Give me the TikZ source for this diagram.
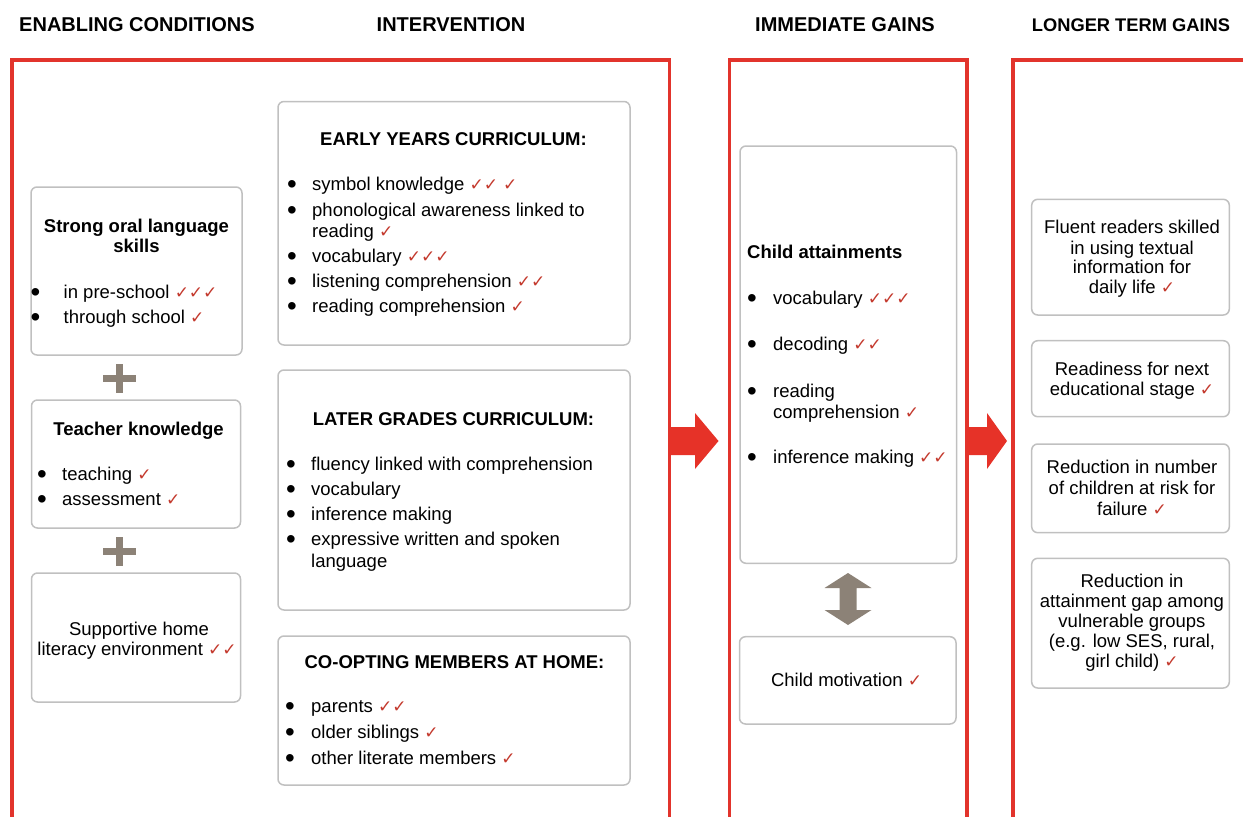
\documentclass[tikz,border=0pt]{standalone}
\usepackage{fontspec}
\setmainfont{Liberation Sans}
\newfontfamily\checkfont{DejaVu Sans}
\definecolor{framered}{RGB}{226,52,44}
\definecolor{arrowred}{RGB}{230,50,40}
\definecolor{tickred}{RGB}{196,58,46}
\definecolor{boxgray}{RGB}{192,192,192}
\definecolor{taupe}{RGB}{140,130,119}
\newcommand{\tk}{{\color{tickred}\checkfont\fontsize{17}{17}\selectfont ✓}}
\newcommand{\bl}[1][25pt]{\makebox[#1][l]{\raisebox{-3pt}[0pt][0pt]{\scalebox{1.5}{\textbullet}}}}

\begin{document}
\begin{tikzpicture}[x=1pt, y=-1pt,
    hdr/.style={font=\fontsize{20}{24}\selectfont\bfseries, anchor=base, inner sep=0},
    txt/.style={font=\fontsize{18.5}{22}\selectfont, anchor=base west, inner sep=0},
    ctxt/.style={txt, anchor=base},
    btxt/.style={ctxt, font=\fontsize{18.5}{22}\selectfont\bfseries},
    bltxt/.style={txt, font=\fontsize{18.5}{22}\selectfont\bfseries},
    gbox/.style={draw=boxgray, line width=1.5pt, rounded corners=6pt, fill=white, inner sep=0},
    frame/.style={draw=framered, line width=3.5pt}]
  \useasboundingbox (0,0) rectangle (1243,817);

  % Column headers
  \node[hdr] (hcond) at (137,31.5) {ENABLING CONDITIONS};
  \node[hdr] (hint) at (451,31.5) {INTERVENTION};
  \node[hdr] (himm) at (845,31.5) {IMMEDIATE GAINS};
  \node[hdr, font=\fontsize{18.3}{22}\selectfont\bfseries] (hlong) at (1131,31.5) {LONGER TERM GAINS};

  % Red frames
  \draw[frame] (12,817) -- (12,60) -- (669.5,60) -- (669.5,817);
  \draw[frame] (729.5,817) -- (729.5,60) -- (967,60) -- (967,817);
  \draw[frame] (1013,817) -- (1013,60) -- (1250,60);

  % Arrows between columns
  \fill[arrowred] (669.5,427) -- (695,427) -- (695,413) -- (718.5,441) -- (695,469) -- (695,455) -- (669.5,455) -- cycle;
  \fill[arrowred] (967,427) -- (987,427) -- (987,413) -- (1007,441) -- (987,469) -- (987,455) -- (967,455) -- cycle;

  % Enabling conditions
  \node[gbox, minimum width=211, minimum height=168] (oral) at (136.5,271) {};
  \node[gbox, minimum width=209, minimum height=128] (teach) at (136,464) {};
  \node[gbox, minimum width=209, minimum height=129] (home) at (136,637.5) {};
  \fill[taupe] (102.5,375) rectangle (135.5,382);
  \fill[taupe] (115.5,364) rectangle (122.5,393);
  \fill[taupe] (102.5,547.5) rectangle (135.5,554.5);
  \fill[taupe] (115.5,536.5) rectangle (122.5,566);

  \node[btxt] (oralt1) at (136.5,232) {Strong oral language};
  \node[btxt] (oralt2) at (136.5,252) {skills};
  \node[txt] (oral1) at (30.5,298) {\bl[33pt]in pre-school \tk\tk\tk};
  \node[txt] (oral2) at (30.5,323) {\bl[33pt]through school \tk};

  \node[btxt] (teacht) at (138.5,435) {Teacher knowledge};
  \node[txt] (teach1) at (37,480) {\bl teaching \tk};
  \node[txt] (teach2) at (37,505) {\bl assessment \tk};

  \node[ctxt] (home1) at (139,635) {Supportive home};
  \node[ctxt] (home2) at (137,655) {literacy environment \tk\tk};

  % Intervention
  \node[gbox, minimum width=352, minimum height=243.5] (early) at (454,223.25) {};
  \node[gbox, minimum width=352, minimum height=240] (later) at (454,490) {};
  \node[gbox, minimum width=352, minimum height=149] (coopt) at (454,710.5) {};

  \node[btxt] (earlyt) at (453.5,145) {EARLY YEARS CURRICULUM:};
  \node[txt] (early1) at (287,190) {\bl symbol knowledge \tk\tk\ \tk};
  \node[txt] (early2) at (287,216) {\bl phonological awareness linked to};
  \node[txt] (early2b) at (312,237) {reading \tk};
  \node[txt] (early3) at (287,262) {\bl vocabulary \tk\tk\tk};
  \node[txt] (early4) at (287,287) {\bl listening comprehension \tk\tk};
  \node[txt] (early5) at (287,312) {\bl reading comprehension \tk};

  \node[btxt] (latert) at (453.5,425) {LATER GRADES CURRICULUM:};
  \node[txt] (later1) at (286,470) {\bl fluency linked with comprehension};
  \node[txt] (later2) at (286,495) {\bl vocabulary};
  \node[txt] (later3) at (286,520) {\bl inference making};
  \node[txt] (later4) at (286,545) {\bl expressive written and spoken};
  \node[txt] (later4b) at (311,567) {language};

  \node[btxt] (coopth) at (454.5,668) {CO-OPTING MEMBERS AT HOME:};
  \node[txt] (coopt1) at (285,712.5) {\bl[26pt]parents \tk\tk};
  \node[txt] (coopt2) at (285,738) {\bl[26pt]older siblings \tk};
  \node[txt] (coopt3) at (285,764) {\bl[26pt]other literate members \tk};

  % Immediate gains
  \node[gbox, minimum width=216.5, minimum height=417.3] (attain) at (848.25,354.65) {};
  \node[gbox, minimum width=216.5, minimum height=87.3] (motiv) at (847.75,680.35) {};
  \fill[taupe] (848,573) -- (871.5,588) -- (856.5,588) -- (856.5,610) -- (871.5,610) -- (848,625)
    -- (824.5,610) -- (839.5,610) -- (839.5,588) -- (824.5,588) -- cycle;

  \node[bltxt] (attaint) at (747,258) {Child attainments};
  \node[txt] (attain1) at (747,304) {\bl[26pt]vocabulary \tk\tk\tk};
  \node[txt] (attain2) at (747,350.5) {\bl[26pt]decoding \tk\tk};
  \node[txt] (attain3) at (747,397) {\bl[26pt]reading};
  \node[txt] (attain3b) at (773,418) {comprehension \tk};
  \node[txt] (attain4) at (747,463.5) {\bl[26pt]inference making \tk\tk};
  \node[ctxt] (motivt) at (846.5,686.5) {Child motivation \tk};

  % Longer term gains
  \node[gbox, minimum width=197.6, minimum height=115.7] (fluent) at (1130.5,257.15) {};
  \node[gbox, minimum width=197.6, minimum height=76] (ready) at (1130.5,378.7) {};
  \node[gbox, minimum width=197.6, minimum height=88.7] (risk) at (1130.5,488.35) {};
  \node[gbox, minimum width=197.6, minimum height=129.7] (gap) at (1130.5,623.15) {};

  \node[ctxt] (fluent1) at (1132,233) {Fluent readers skilled};
  \node[ctxt] (fluent2) at (1132,254) {in using textual};
  \node[ctxt] (fluent3) at (1132,273.5) {information for};
  \node[ctxt] (fluent4) at (1132,293.5) {daily life \tk};
  \node[ctxt] (ready1) at (1132,375) {Readiness for next};
  \node[ctxt] (ready2) at (1132,395) {educational stage \tk};
  \node[ctxt] (risk1) at (1132,473.5) {Reduction in number};
  \node[ctxt] (risk2) at (1132,494.5) {of children at risk for};
  \node[ctxt] (risk3) at (1132,515) {failure \tk};
  \node[ctxt] (gap1) at (1132,587) {Reduction in};
  \node[ctxt] (gap2) at (1132,607) {attainment gap among};
  \node[ctxt] (gap3) at (1132,627) {vulnerable groups};
  \node[ctxt] (gap4) at (1132,647) {(e.g. low SES, rural,};
  \node[ctxt] (gap5) at (1132,667) {girl child) \tk};
\end{tikzpicture}
\end{document}
